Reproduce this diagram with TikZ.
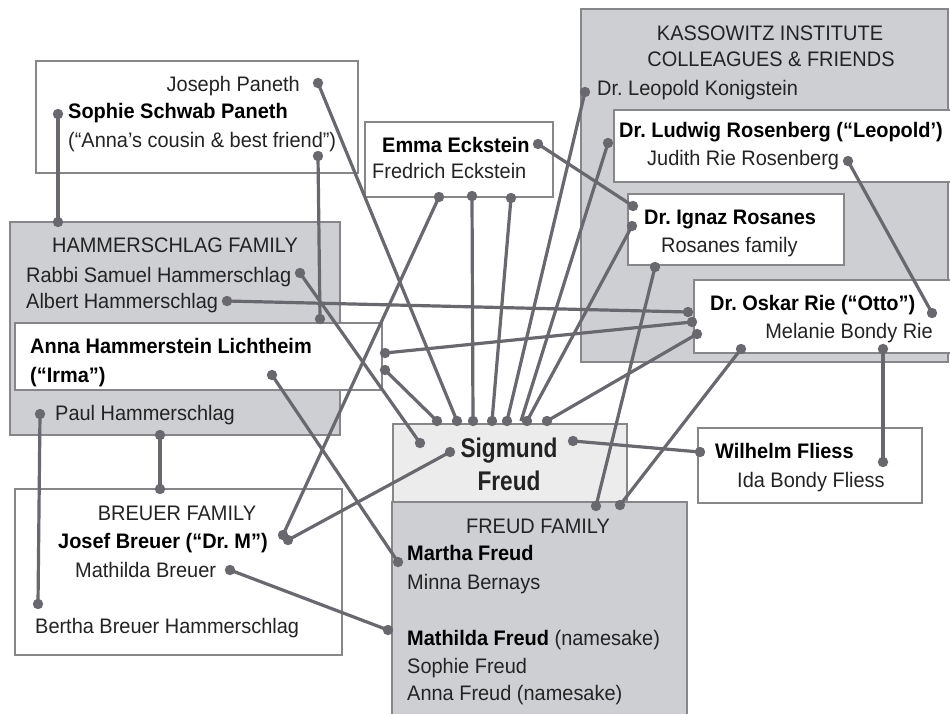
\documentclass[tikz,border=0pt]{standalone}
\usepackage{fontspec}
\setmainfont[FakeStretch=0.95]{Liberation Sans}
\newfontfamily\sigfont[FakeStretch=0.84]{Liberation Sans}
\definecolor{famGrey}{RGB}{205,207,211}
\definecolor{sigGrey}{RGB}{236,236,236}
\definecolor{boxLine}{RGB}{135,135,138}
\definecolor{linkC}{RGB}{104,104,110}
\definecolor{txtC}{RGB}{35,35,35}
\tikzset{
  famBox/.style={fill=famGrey, draw=boxLine, line width=1.2pt},
  plainBox/.style={fill=white, draw=boxLine, line width=1.2pt},
  sigBox/.style={fill=sigGrey, draw=boxLine, line width=1.2pt},
  link/.style={draw=linkC, line width=3.2pt},
  tx/.style={inner sep=0pt, text=txtC, font=\fontsize{21}{24}\selectfont},
  bt/.style={inner sep=0pt, text=black, font=\fontsize{21}{24}\selectfont\bfseries},
  sigtx/.style={inner sep=0pt, text=txtC, font=\sigfont\fontsize{27}{30}\selectfont\bfseries},
}
\begin{document}
\frenchspacing
\begin{tikzpicture}[x=1pt,y=-1pt]
\useasboundingbox (0,0) rectangle (950,713);
\fill[white] (0,0) rectangle (950,713);

% ---------- boxes ----------
\path[plainBox] (36,61) rectangle (358,173);           % Paneth
\path[famBox]   (10,222) rectangle (340,435);          % Hammerschlag family
\path[plainBox] (15,323) rectangle (382,390);          % Anna Lichtheim
\path[plainBox] (15,489) rectangle (342,655);          % Breuer family
\path[plainBox] (365,122) rectangle (553,197);         % Eckstein
\path[famBox]   (581,9) rectangle (948,362);           % Kassowitz
\path[plainBox] (614,110) rectangle (952,182);         % Rosenberg
\path[plainBox] (628,194) rectangle (844,265);         % Rosanes
\path[plainBox] (694,280) rectangle (952,353);         % Otto Rie
\path[plainBox] (698,428) rectangle (922,503);         % Fliess
\path[sigBox]   (393,424) rectangle (627,502);         % Sigmund Freud
\path[famBox]   (392,502) rectangle (687,720);         % Freud family

% ---------- connection points ----------
\coordinate (dJoseph) at (318,83);
\coordinate (dSophie) at (58,114);
\coordinate (dFriend) at (318,156);
\coordinate (hTop) at (58,222);
\coordinate (aTop) at (320,319);
\coordinate (dRabbi) at (300,273);
\coordinate (dAlbert) at (227,301);
\coordinate (aR1) at (385,353);
\coordinate (aR2) at (385,370);
\coordinate (dIrma) at (272,375);
\coordinate (dPaul) at (40,414);
\coordinate (hBot) at (160,435);
\coordinate (bTop) at (160,489);
\coordinate (dJosefA) at (283,535);
\coordinate (dJosefB) at (288,540);
\coordinate (dMathB) at (230,570);
\coordinate (dBertha) at (38,604);
\coordinate (dEmma) at (538,144);
\coordinate (eB1) at (439,197);
\coordinate (eB2) at (472,196);
\coordinate (eB3) at (511,198);
\coordinate (dKonig) at (585,92);
\coordinate (dRosen) at (608,143);
\coordinate (dJudith) at (848,161);
\coordinate (rosA) at (633,206);
\coordinate (rosB) at (632,226);
\coordinate (rosBot) at (655,267);
\coordinate (oL1) at (688,312);
\coordinate (oL2) at (692,322);
\coordinate (oL3) at (697,334);
\coordinate (oR) at (932,313);
\coordinate (oBot) at (741,349);
\coordinate (dMelanie) at (883,349);
\coordinate (fL) at (700,452);
\coordinate (fIda) at (883,462);
\coordinate (sT1) at (437,421);
\coordinate (sT2) at (457,421);
\coordinate (sT3) at (473,421);
\coordinate (sT4) at (492,421);
\coordinate (sT5) at (507,421);
\coordinate (sT6) at (527,421);
\coordinate (sT6b) at (521,421);
\coordinate (sT7) at (547,421);
\coordinate (sIn1) at (420,443);
\coordinate (sIn2) at (450,452);
\coordinate (sR) at (573,441);
\coordinate (ffT1) at (596,506);
\coordinate (ffT2) at (620,505);
\coordinate (dMartha) at (398,562);
\coordinate (dMathF) at (388,630);

% ---------- connectors ----------
\draw[link] (dJoseph) -- (sT2);
\draw[link] (dSophie) -- (hTop);
\draw[link] (dFriend) -- (aTop);
\draw[link] (dRabbi) -- (sIn1);
\draw[link] (dAlbert) -- (oL1);
\draw[link] (aR1) -- (oL2);
\draw[link] (aR2) -- (sT1);
\draw[link] (dIrma) -- (dMartha);
\draw[link] (hBot) -- (bTop);
\draw[link] (dPaul) -- (dBertha);
\draw[link] (dJosefA) -- (eB1);
\draw[link] (dJosefB) -- (sIn2);
\draw[link] (dMathB) -- (dMathF);
\draw[link] (dEmma) -- (rosA);
\draw[link] (eB2) -- (sT3);
\draw[link] (eB3) -- (sT4);
\draw[link] (dKonig) -- (sT5);
\draw[link] (dRosen) -- (sT6b);
\draw[link] (rosB) -- (sT6);
\draw[link] (rosBot) -- (ffT1);
\draw[link] (oL3) -- (sT7);
\draw[link] (oBot) -- (ffT2);
\draw[link] (dJudith) -- (oR);
\draw[link] (dMelanie) -- (fIda);
\draw[link] (sR) -- (fL);

\foreach \p in {dJoseph,dSophie,dFriend,hTop,aTop,dRabbi,dAlbert,aR1,aR2,dIrma,
  dPaul,hBot,bTop,dJosefA,dJosefB,dMathB,dBertha,dEmma,eB1,eB2,eB3,dKonig,dRosen,
  dJudith,rosA,rosB,rosBot,oL1,oL2,oL3,oR,oBot,dMelanie,fL,fIda,sT1,sT2,sT3,sT4,
  sT5,sT6,sT7,sIn1,sIn2,sR,ffT1,ffT2,dMartha,dMathF}
  \fill[linkC] (\p) circle (5.2pt);

% ---------- texts ----------
\node[tx, anchor=base east] (tJoseph) at (300,91) {Joseph Paneth};
\node[bt, anchor=base west] (tSophie) at (68,118) {Sophie Schwab Paneth};
\node[tx, anchor=base west] (tFriend) at (68,147) {(“Anna's cousin \& best friend”)};

\node[tx, anchor=base] (tHam) at (175,252) {HAMMERSCHLAG FAMILY};
\node[tx, anchor=base west] (tRabbi) at (26,282) {Rabbi Samuel Hammerschlag};
\node[tx, anchor=base west] (tAlbert) at (26,308) {Albert Hammerschlag};
\node[bt, anchor=base west] (tAnna) at (30,353) {Anna Hammerstein Lichtheim};
\node[bt, anchor=base west] (tIrma) at (30,382) {(“Irma”)};
\node[tx, anchor=base west] (tPaul) at (55,420) {Paul Hammerschlag};

\node[tx, anchor=base] (tBreuerF) at (177,520) {BREUER FAMILY};
\node[bt, anchor=base west] (tJosef) at (58,548) {Josef Breuer (“Dr. M”)};
\node[tx, anchor=base west] (tMathB) at (75,577) {Mathilda Breuer};
\node[tx, anchor=base west] (tBertha) at (35,633) {Bertha Breuer Hammerschlag};

\node[bt, anchor=base west] (tEmma) at (382,152) {Emma Eckstein};
\node[tx, anchor=base west] (tFred) at (372,178) {Fredrich Eckstein};

\node[tx, anchor=base] (tKas1) at (770,40) {KASSOWITZ INSTITUTE};
\node[tx, anchor=base] (tKas2) at (771,66) {COLLEAGUES \& FRIENDS};
\node[tx, anchor=base west] (tKonig) at (597,95) {Dr. Leopold Konigstein};
\node[bt, anchor=base west] (tRosen) at (619,137) {Dr. Ludwig Rosenberg (“Leopold’)};
\node[tx, anchor=base west] (tJudith) at (647,165) {Judith Rie Rosenberg};
\node[bt, anchor=base west] (tRosanes) at (644,224) {Dr. Ignaz Rosanes};
\node[tx, anchor=base west] (tRosFam) at (661,252) {Rosanes family};
\node[bt, anchor=base west] (tOtto) at (710,310) {Dr. Oskar Rie (“Otto”)};
\node[tx, anchor=base east] (tMelanie) at (933,338) {Melanie Bondy Rie};

\node[bt, anchor=base west] (tWilhelm) at (715,458) {Wilhelm Fliess};
\node[tx, anchor=base west] (tIda) at (737,487) {Ida Bondy Fliess};

\node[sigtx, anchor=base] (tSig) at (509,457) {Sigmund};
\node[sigtx, anchor=base] (tFreud) at (509,490) {Freud};

\node[tx, anchor=base] (tFF) at (538,533) {FREUD FAMILY};
\node[bt, anchor=base west] (tMartha) at (407,560) {Martha Freud};
\node[tx, anchor=base west] (tMinna) at (407,589) {Minna Bernays};
\node[tx, anchor=base west] (tMathF) at (407,645) {\textbf{\color{black}Mathilda Freud} (namesake)};
\node[tx, anchor=base west] (tSophieF) at (407,673) {Sophie Freud};
\node[tx, anchor=base west] (tAnnaF) at (407,700) {Anna Freud (namesake)};
\end{tikzpicture}
\end{document}
